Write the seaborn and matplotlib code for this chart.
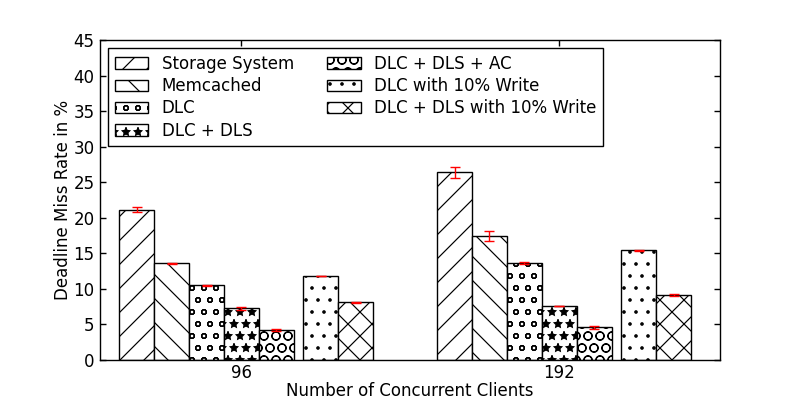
import numpy as np
import pandas as pd
import matplotlib
matplotlib.use("Agg")
import matplotlib.pyplot as plt
import seaborn as sns

# data
clients = [96, 192]
series = ["Storage System", "Memcached", "DLC", "DLC + DLS", "DLC + DLS + AC",
          "DLC with 10% Write", "DLC + DLS with 10% Write"]
storage = [21.1, 26.4]
memcached = [13.6, 17.5]
dlc = [10.5, 13.6]
dlc_dls = [7.3, 7.6]
dlc_dls_ac = [4.2, 4.6]
dlc_write = [11.8, 15.4]
dlc_dls_write = [8.1, 9.1]
values = [storage, memcached, dlc, dlc_dls, dlc_dls_ac, dlc_write, dlc_dls_write]

storage_err = [0.35, 0.8]
memcached_err = [0.1, 0.7]
dlc_err = [0.1, 0.15]
dlc_dls_err = [0.2, 0.05]
dlc_dls_ac_err = [0.1, 0.2]
dlc_write_err = [0.05, 0.1]
dlc_dls_write_err = [0.1, 0.15]
errors = [storage_err, memcached_err, dlc_err, dlc_dls_err, dlc_dls_ac_err,
          dlc_write_err, dlc_dls_write_err]

hatches = ["/", "\\", "o", "*", "O", ".", "x"]

# layout
width = 0.11
gap = 0.03
ind = np.arange(len(clients))

rows = []
for i, name in enumerate(series):
    off = i * width + (gap if i >= 5 else 0)
    for j in range(len(clients)):
        rows.append({"pos": ind[j] + off + width / 2, "miss": values[i][j],
                     "err": errors[i][j], "series": name})
df = pd.DataFrame(rows)

# draw at 72 dpi (old-style hatch density), scale point sizes to match 100 dpi
DPI = 72
s = 100 / DPI

sns.set_theme(style="ticks", rc={
    "font.family": ["DejaVu Sans"],
    "font.size": 12 * s,
    "axes.labelsize": 12 * s,
    "xtick.labelsize": 12 * s,
    "ytick.labelsize": 12 * s,
    "legend.fontsize": 12 * s,
    "text.color": "black",
    "axes.labelcolor": "black",
    "xtick.color": "black",
    "ytick.color": "black",
    "xtick.direction": "in",
    "ytick.direction": "in",
    "xtick.top": True,
    "ytick.right": True,
    "xtick.major.size": 4 * s,
    "ytick.major.size": 4 * s,
    "xtick.major.width": 1.0 * s,
    "ytick.major.width": 1.0 * s,
    "xtick.major.pad": 3 * s,
    "ytick.major.pad": 4 * s,
    "axes.linewidth": 1.0 * s,
    "axes.edgecolor": "black",
    "hatch.linewidth": 1.2,
    "hatch.color": "black",
})

fig = plt.figure(figsize=(800 / DPI, 400 / DPI), dpi=DPI)
ax = fig.add_axes([0.125, 0.1, 0.775, 0.8])

sns.barplot(data=df, x="pos", y="miss", hue="series", hue_order=series,
            palette={n: "white" for n in series}, native_scale=True, dodge=False,
            width=1.0, edgecolor="black", linewidth=1.0 * s, errorbar=None,
            legend=False, saturation=1, ax=ax)

for cont, h in zip(ax.containers, hatches):
    for p in cont.patches:
        p.set_hatch(h)

ax.errorbar(df["pos"], df["miss"], yerr=df["err"], fmt="none", ecolor="red",
            elinewidth=1.0 * s, capsize=3.5 * s, capthick=1.0 * s)

ax.set_xlim(-0.06, 1.89)
ax.set_ylim(0, 45)
ax.set_yticks(range(0, 46, 5))
ax.set_xticks(ind + 3.5 * width)
ax.set_xticklabels([str(c) for c in clients])
ax.set_xlabel("Number of Concurrent Clients", labelpad=0)
ax.set_ylabel("Deadline Miss Rate in %", labelpad=1 * s)

leg = ax.legend(ax.containers, series, loc="upper left", ncol=2,
                fancybox=False, framealpha=1, edgecolor="black",
                handlelength=2, handleheight=0.7, labelspacing=0.25,
                borderaxespad=0.5, columnspacing=2.0)
leg.get_frame().set_linewidth(1.0 * s)

fig.savefig("out.png", dpi=DPI)
